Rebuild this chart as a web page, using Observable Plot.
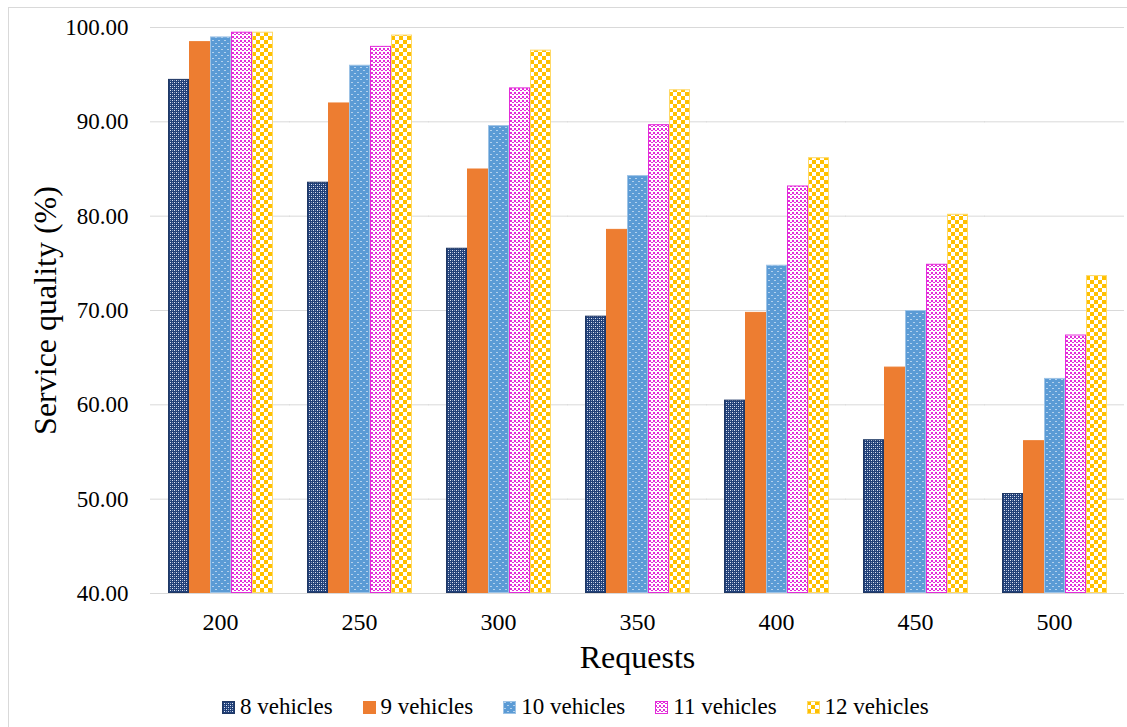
<!DOCTYPE html>
<html>
<head>
<meta charset="utf-8">
<script src="https://cdn.jsdelivr.net/npm/d3@7"></script>
<script src="https://cdn.jsdelivr.net/npm/@observablehq/plot@0.6"></script>
<style>
  html, body { margin: 0; padding: 0; background: #fff; }
  body { width: 1127px; height: 727px; overflow: hidden; position: relative;
         font-family: "Liberation Serif", "Nimbus Roman", "Nimbus Roman No9 L", FreeSerif, "DejaVu Serif", "Noto Serif", Tinos, "Times New Roman", Times, serif; }
  #chart { position: absolute; left: 0; top: 0; }
  #frame { position: absolute; left: 8px; top: 7px; width: 1400px; height: 1000px;
           border-left: 1px solid #d9d9d9; border-top: 1px solid #d9d9d9; pointer-events: none; }
  #legend { position: absolute; left: 222px; top: 694px; height: 26px; display: flex; align-items: center;
            font-size: 23px; color: #000; line-height: 26px; white-space: nowrap; }
  #legend .item { display: flex; align-items: center; margin-right: 30px; }
  #legend svg { display: block; margin-right: 5px; }
  svg text { font-family: "Liberation Serif", "Nimbus Roman", "Nimbus Roman No9 L", FreeSerif, "DejaVu Serif", "Noto Serif", Tinos, "Times New Roman", Times, serif; }
  g[aria-label="y-axis label"] { font-size: 32px; }
  g[aria-label="fx-axis label"] { font-size: 32px; }
</style>
</head>
<body>
<div id="chart"></div>
<div id="legend"></div>
<div id="frame"></div>
<script>
// ---- data ----
const requests = [200, 250, 300, 350, 400, 450, 500];
const seriesNames = ["8 vehicles", "9 vehicles", "10 vehicles", "11 vehicles", "12 vehicles"];
const vehicles8  = [94.5, 83.6, 76.6, 69.4, 60.5, 56.3, 50.6];
const vehicles9  = [98.5, 92.0, 85.0, 78.6, 69.8, 64.0, 56.2];
const vehicles10 = [99.0, 96.0, 89.6, 84.3, 74.8, 70.0, 62.8];
const vehicles11 = [99.5, 98.0, 93.6, 89.7, 83.2, 74.9, 67.4];
const vehicles12 = [99.5, 99.2, 97.6, 93.4, 86.2, 80.2, 73.7];
const yTicks = [40, 50, 60, 70, 80, 90, 100];
const yDomain = [40, 100];
const xLabel = "Requests";
const yLabel = "Service quality (%)";

// ---- styles ----
const seriesValues = [vehicles8, vehicles9, vehicles10, vehicles11, vehicles12];
const seriesStyle = [
  {fill: "url(#pat8)",  stroke: "#203864"},
  {fill: "#ed7d31",     stroke: "#ed7d31"},
  {fill: "url(#pat10)", stroke: "#9dc3e6"},
  {fill: "url(#pat11)", stroke: "#e32bd9"},
  {fill: "url(#pat12)", stroke: "#ffd966"}
];
const patternDefs = `
  <pattern id="pat8" patternUnits="userSpaceOnUse" width="4" height="4">
    <rect width="4" height="4" fill="#203f77"/>
    <rect x="0" y="0" width="1" height="1" fill="#dfe6f3"/>
    <rect x="2" y="2" width="1" height="1" fill="#dfe6f3"/>
    <rect x="2" y="0" width="1" height="1" fill="#8396bb"/>
    <rect x="0" y="2" width="1" height="1" fill="#8396bb"/>
  </pattern>
  <pattern id="pat10" patternUnits="userSpaceOnUse" width="6" height="6">
    <rect width="6" height="6" fill="#5b9bd5"/>
    <rect x="1" y="1" width="2" height="1" fill="#b3d1ee"/>
    <rect x="4" y="4" width="2" height="1" fill="#b3d1ee"/>
  </pattern>
  <pattern id="pat11" patternUnits="userSpaceOnUse" width="4" height="4">
    <rect width="4" height="4" fill="#ffffff"/>
    <rect x="0" y="0" width="2" height="2" fill="#e32bd9"/>
    <rect x="2" y="2" width="2" height="1" fill="#e32bd9"/>
  </pattern>
  <pattern id="pat12" patternUnits="userSpaceOnUse" width="8" height="8">
    <rect width="8" height="8" fill="#ffffff"/>
    <rect x="0" y="0" width="4" height="4" fill="#ffc000"/>
    <rect x="4" y="4" width="4" height="4" fill="#ffc000"/>
  </pattern>`;

const rows = [];
seriesNames.forEach((s, i) => requests.forEach((r, j) => rows.push({request: r, series: s, value: seriesValues[i][j]})));

const chart = Plot.plot({
  width: 1127,
  height: 680,
  marginLeft: 150,
  marginRight: 4,
  marginTop: 27,
  marginBottom: 87,
  style: {color: "#000", background: "transparent", overflow: "visible"},
  fx: {domain: requests, paddingInner: 0.226, paddingOuter: 0.113},
  x: {domain: seriesNames, padding: 0, axis: null},
  y: {domain: yDomain},
  marks: [
    Plot.ruleY(yTicks, {stroke: "#d9d9d9", strokeWidth: 1, insetLeft: -16, insetRight: -16}),
    ...seriesNames.map((s, i) => Plot.barY(rows.filter(d => d.series === s), {
      fx: "request", x: "series", y1: yDomain[0], y2: "value",
      fill: seriesStyle[i].fill, stroke: seriesStyle[i].stroke, strokeWidth: 1, inset: 0.5
    })),
    Plot.axisY({ticks: yTicks, tickFormat: d => d.toFixed(2), tickSize: 0, tickPadding: 38, fontSize: 23,
      label: yLabel, labelAnchor: "center", labelOffset: 133, labelArrow: "none"}),
    Plot.axisFx({anchor: "bottom", tickSize: 0, tickPadding: 19, fontSize: 24,
      label: xLabel, labelAnchor: "center", labelOffset: 74, labelArrow: "none"})
  ]
});
d3.select(chart).insert("defs", ":first-child").html(patternDefs);
document.getElementById("chart").appendChild(chart);

// ---- legend ----
const legend = document.getElementById("legend");
seriesNames.forEach((s, i) => {
  const item = document.createElement("div");
  item.className = "item";
  item.innerHTML = `<svg width="13" height="13"><rect x="0.5" y="0.5" width="12" height="12" fill="${seriesStyle[i].fill}" stroke="${seriesStyle[i].stroke}"/></svg><span>${s}</span>`;
  legend.appendChild(item);
});
</script>
</body>
</html>
